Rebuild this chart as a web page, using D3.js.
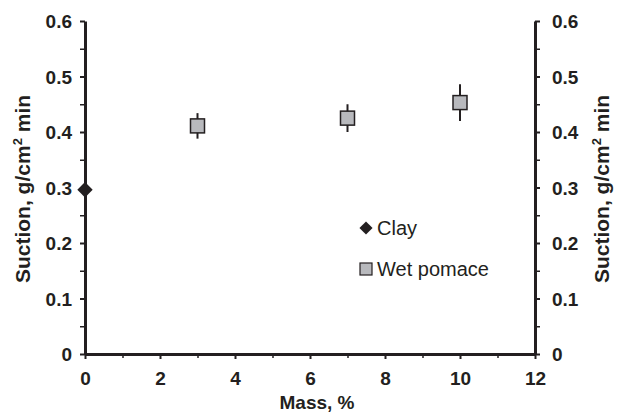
<!DOCTYPE html>
<html>
<head>
<meta charset="utf-8">
<script src="https://cdn.jsdelivr.net/npm/d3@7"></script>
<style>
  body { margin: 0; background: #fff; }
  svg { display: block; font-family: "Liberation Sans", Arial, sans-serif; }
  .axis .domain { stroke: #231f20; stroke-width: 3; }
  .axis line { stroke: #231f20; stroke-width: 2; }
  .axis text { font-size: 19px; font-weight: bold; fill: #231f20; }
  .minor line { stroke-width: 1.5; }
</style>
</head>
<body>
<div class="chart_container"></div>
<script>
var clayMass = [0];
var claySuction = [0.296];
var pomaceMass = [3, 7, 10];
var pomaceSuction = [0.411, 0.425, 0.453];
var pomaceErr = [0.023, 0.025, 0.033];
var xTicks = [0, 2, 4, 6, 8, 10, 12];
var xMinor = [1, 3, 5, 7, 9, 11];
var yTicks = [0, 0.1, 0.2, 0.3, 0.4, 0.5, 0.6];
var yMinor = [0.05, 0.15, 0.25, 0.35, 0.45, 0.55];
var legendNames = ["Clay", "Wet pomace"];

var width = 619, height = 413;
var ink = "#231f20";
var svg = d3.select(".chart_container").append("svg")
    .attr("width", width)
    .attr("height", height);

var x = d3.scaleLinear().domain([0, 12]).range([85, 535]);
var y = d3.scaleLinear().domain([0, 0.6]).range([354, 21]);
var fmt = function(d){ return d === 0 ? "0" : d3.format(".1f")(d); };

// minor ticks first, so the axis lines sit on top
svg.append("g").attr("class", "axis minor")
    .attr("transform", "translate(" + x(0) + ",0)")
    .call(d3.axisLeft(y).tickValues(yMinor).tickSize(5).tickSizeOuter(0).tickFormat(""))
    .select(".domain").remove();
svg.append("g").attr("class", "axis minor")
    .attr("transform", "translate(" + x(12) + ",0)")
    .call(d3.axisRight(y).tickValues(yMinor).tickSize(5).tickSizeOuter(0).tickFormat(""))
    .select(".domain").remove();
svg.append("g").attr("class", "axis minor")
    .attr("transform", "translate(0," + y(0) + ")")
    .call(d3.axisBottom(x).tickValues(xMinor).tickSize(4).tickSizeOuter(0).tickFormat(""))
    .select(".domain").remove();

svg.append("g").attr("class", "axis")
    .attr("transform", "translate(" + x(0) + ",0)")
    .call(d3.axisLeft(y).tickValues(yTicks).tickSize(5).tickSizeOuter(0).tickPadding(8).tickFormat(fmt))
    .selectAll("text").attr("dy", "0.36em");
svg.append("g").attr("class", "axis")
    .attr("transform", "translate(" + x(12) + ",0)")
    .call(d3.axisRight(y).tickValues(yTicks).tickSize(5).tickSizeOuter(0).tickPadding(12).tickFormat(fmt))
    .selectAll("text").attr("dy", "0.36em");
svg.append("g").attr("class", "axis")
    .attr("transform", "translate(0," + y(0) + ")")
    .call(d3.axisBottom(x).tickValues(xTicks).tickSize(5).tickSizeOuter(0).tickPadding(13).tickFormat(d3.format("d")))
    .selectAll("text").attr("dy", "0.71em");

// axis titles
svg.append("text")
    .attr("x", 317).attr("y", 409)
    .attr("text-anchor", "middle")
    .style("font-size", "19px").style("font-weight", "bold").style("fill", ink)
    .text("Mass, %");

function yTitle(cx){
    var t = svg.append("text")
        .attr("transform", "translate(" + cx + "," + 189 + ") rotate(-90)")
        .attr("text-anchor", "middle")
        .style("font-size", "21px").style("font-weight", "bold").style("fill", ink);
    t.append("tspan").text("Suction, g/cm");
    t.append("tspan").attr("dy", -8).style("font-size", "13px").text("2");
    t.append("tspan").attr("dy", 8).text(" min");
}
yTitle(30);
yTitle(609);

// wet pomace error bars and squares
var pom = svg.selectAll(".pomace")
    .data(pomaceMass)
    .enter().append("g")
    .attr("class", "pomace");
pom.append("line")
    .attr("x1", function(d){ return x(d); })
    .attr("x2", function(d){ return x(d); })
    .attr("y1", function(d, i){ return y(pomaceSuction[i] + pomaceErr[i]); })
    .attr("y2", function(d, i){ return y(pomaceSuction[i] - pomaceErr[i]); })
    .attr("stroke", ink).attr("stroke-width", 2);
pom.append("rect")
    .attr("x", function(d){ return x(d) - 7; })
    .attr("y", function(d, i){ return y(pomaceSuction[i]) - 7; })
    .attr("width", 14).attr("height", 14)
    .attr("fill", "#b8b9bd").attr("stroke", ink).attr("stroke-width", 1.5);

// clay diamonds
var diamond = d3.symbol().type(d3.symbolDiamond2).size(150);
svg.selectAll(".clay")
    .data(clayMass)
    .enter().append("path")
    .attr("class", "clay")
    .attr("transform", function(d, i){ return "translate(" + x(d) + "," + y(claySuction[i]) + ")"; })
    .attr("d", diamond)
    .attr("fill", ink);

// legend
var legend = svg.append("g").attr("transform", "translate(366,228)");
legend.append("path")
    .attr("d", d3.symbol().type(d3.symbolDiamond2).size(110))
    .attr("fill", ink);
legend.append("rect")
    .attr("x", -6).attr("y", 35).attr("width", 12).attr("height", 12)
    .attr("fill", "#b8b9bd").attr("stroke", ink).attr("stroke-width", 1.2);
legend.selectAll(".lg")
    .data(legendNames)
    .enter().append("text")
    .attr("class", "lg")
    .attr("x", 11)
    .attr("y", function(d, i){ return i * 41 + 7; })
    .style("font-size", "20px").style("fill", ink)
    .text(function(d){ return d; });
</script>
</body>
</html>
